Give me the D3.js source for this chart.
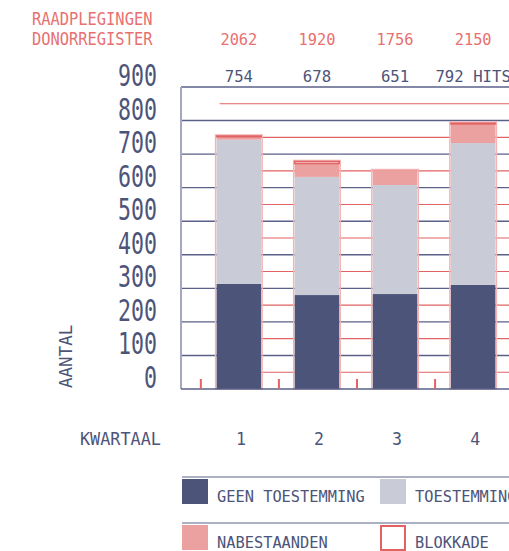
<!DOCTYPE html>
<html>
<head>
<meta charset="utf-8">
<script src="https://cdn.jsdelivr.net/npm/d3@7"></script>
<style>
  body { margin: 0; background: #fff; }
  svg { display: block; }
</style>
</head>
<body>
<script>
// data
var quarters = ["1", "2", "3", "4"];
var raadplegingen = [2062, 1920, 1756, 2150];
var hits = [754, 678, 651, 792];
var geenToestemming = [313, 280, 283, 310];
var toestemming = [430, 352, 325, 423];
var nabestaanden = [9, 40, 43, 57];
var blokkade = [2, 6, 0, 2];
var yTicks = [0, 100, 200, 300, 400, 500, 600, 700, 800, 900];

var width = 509, height = 551;
var navy = "#4d5479", grey = "#c9cbd7", pink = "#eca1a1", red = "#e26363";
var font = "DejaVu Sans Mono";

var svg = d3.select("body").append("svg")
    .attr("width", width)
    .attr("height", height);

var y = d3.scaleLinear().domain([0, 900]).range([389, 87]);
var x = d3.scaleBand().domain(quarters).range([201, 511])
    .paddingInner(0.43).paddingOuter(0.2);
var bw = x.bandwidth();
var gap = x.step() - bw;

function txt(str, px, py, size, sx, color, anchor) {
    return svg.append("text")
        .attr("transform", "translate(" + px + "," + py + ") scale(" + sx + ",1)")
        .attr("text-anchor", anchor || "start")
        .style("font-family", font)
        .style("font-size", size + "px")
        .style("fill", color)
        .text(str);
}

// navy gridlines
svg.selectAll(".gridN")
    .data(yTicks.filter(function (d) { return d > 0 && d < 900; }))
    .enter().append("line")
    .attr("x1", 181).attr("x2", width)
    .attr("y1", function (d) { return y(d); })
    .attr("y2", function (d) { return y(d); })
    .attr("stroke", "#5a6088").attr("stroke-width", 1.4);

// red half gridlines
svg.selectAll(".gridR")
    .data(yTicks.slice(0, 9).map(function (d) { return d + 50; }))
    .enter().append("line")
    .attr("x1", x("1") + 3).attr("x2", width)
    .attr("y1", function (d) { return y(d); })
    .attr("y2", function (d) { return y(d); })
    .attr("stroke", red).attr("stroke-width", 1.1);

// frame
svg.append("line").attr("x1", 181).attr("x2", width).attr("y1", y(900)).attr("y2", y(900))
    .attr("stroke", "#5a6088").attr("stroke-width", 1.4);
svg.append("line").attr("x1", 181).attr("x2", 181).attr("y1", y(900)).attr("y2", y(0))
    .attr("stroke", "#a3a7bf").attr("stroke-width", 2);

// stacked bars
var rows = quarters.map(function (q, i) {
    return { q: q, geen: geenToestemming[i], toe: toestemming[i], nab: nabestaanden[i], blok: blokkade[i] };
});
var stack = d3.stack().keys(["geen", "toe", "nab", "blok"])(rows);
var fills = { geen: navy, toe: grey, nab: pink, blok: "#fff" };

// pink outline around whole column
svg.selectAll(".outline")
    .data(rows)
    .enter().append("rect")
    .attr("x", function (d) { return x(d.q) - 1; })
    .attr("width", bw + 2)
    .attr("y", function (d, i) { return y(hits[i]) - 1; })
    .attr("height", function (d, i) { return y(0) - y(hits[i]) + 1; })
    .attr("fill", "none")
    .attr("stroke", "#f3b3b3").attr("stroke-width", 1.5);

stack.forEach(function (layer) {
    svg.selectAll(".seg-" + layer.key)
        .data(layer)
        .enter().append("rect")
        .attr("x", function (d) { return x(d.data.q); })
        .attr("width", bw)
        .attr("y", function (d) { return y(d[1]); })
        .attr("height", function (d) { return Math.max(0, y(d[0]) - y(d[1])); })
        .attr("fill", fills[layer.key])
        .attr("stroke", layer.key === "blok" ? red : "none")
        .attr("stroke-width", function (d) { return layer.key === "blok" && d[1] > d[0] ? 1.5 : 0; });
});

// baseline
svg.append("line").attr("x1", 181).attr("x2", width).attr("y1", y(0)).attr("y2", y(0))
    .attr("stroke", "#5a6088").attr("stroke-width", 1.4);

// small red ticks at baseline
svg.selectAll(".rtick")
    .data(quarters)
    .enter().append("line")
    .attr("x1", function (d) { return x(d) - gap / 2 + 1; })
    .attr("x2", function (d) { return x(d) - gap / 2 + 1; })
    .attr("y1", y(0) - 10).attr("y2", y(0))
    .attr("stroke", red).attr("stroke-width", 2);

// y tick labels
yTicks.forEach(function (t) {
    txt(t, 157, y(t) - 1, 30, 0.72, navy, "end");
});

// titles
txt("RAADPLEGINGEN", 32, 25, 17.5, 0.88, "#e87070");
txt("DONORREGISTER", 32, 45, 17.5, 0.88, "#e87070");

quarters.forEach(function (q, i) {
    var cx = x(q) + bw / 2;
    txt(raadplegingen[i], cx, 45, 16.5, 0.93, "#e87070", "middle");
    txt(hits[i] + (i === quarters.length - 1 ? " HITS" : ""), cx, 82, 16.5, 0.95, navy, "middle");
    txt(q, cx + 2, 445, 17.5, 0.95, navy, "middle");
});

txt("KWARTAAL", 80, 445, 17.5, 0.96, navy);

svg.append("text")
    .attr("transform", "translate(72,388) rotate(-90)")
    .style("font-family", font)
    .style("font-size", "17.5px")
    .style("fill", navy)
    .text("AANTAL");

// legend
var legend = [
    { label: "GEEN TOESTEMMING", fill: navy, stroke: "none", col: 0, row: 0 },
    { label: "TOESTEMMING", fill: grey, stroke: "none", col: 1, row: 0 },
    { label: "NABESTAANDEN", fill: pink, stroke: "none", col: 0, row: 1 },
    { label: "BLOKKADE", fill: "#fff", stroke: red, col: 1, row: 1 }
];
var legX = [182, 380], legY = [477, 523];

legY.forEach(function (ly) {
    svg.append("line").attr("x1", 182).attr("x2", width).attr("y1", ly).attr("y2", ly)
        .attr("stroke", "#9196b2").attr("stroke-width", 1.5);
});

legend.forEach(function (d) {
    var lx = legX[d.col], ly = legY[d.row];
    if (d.stroke === "none") {
        svg.append("rect").attr("x", lx).attr("y", ly + 2).attr("width", 26).attr("height", 25)
            .attr("fill", d.fill);
    } else {
        svg.append("rect").attr("x", lx + 1).attr("y", ly + 3).attr("width", 24).attr("height", 24)
            .attr("fill", d.fill).attr("stroke", d.stroke).attr("stroke-width", 2);
    }
    txt(d.label, lx + 35, ly + 25, 16.5, 0.93, navy);
});
</script>
</body>
</html>
